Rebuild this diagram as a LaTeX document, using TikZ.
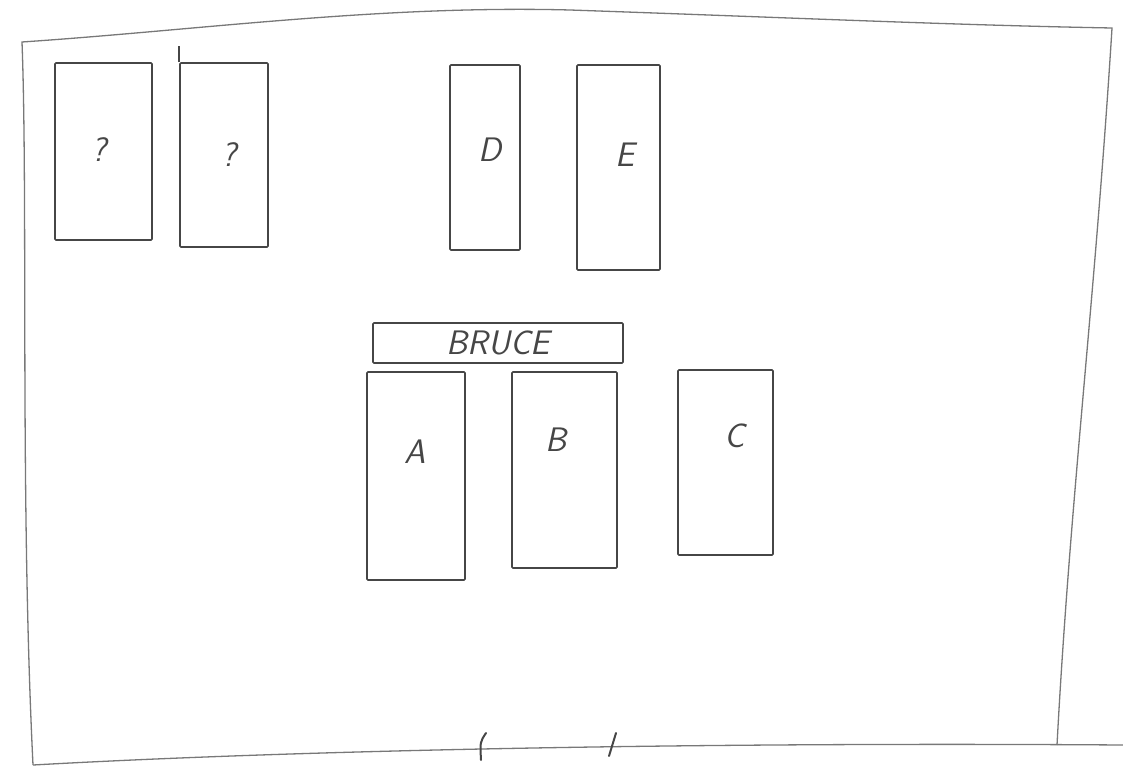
\documentclass[tikz,border=0pt]{standalone}
\usepackage{tikz}
\usetikzlibrary{positioning,calc}
\definecolor{penGray}{RGB}{70,70,70}
\definecolor{wallGray}{RGB}{120,120,120}
\tikzset{
  desk box/.style={draw=penGray,line width=1.6pt,rounded corners=1pt,inner sep=0pt},
  desk label/.style={text=penGray,font=\fontsize{34}{40}\selectfont\sffamily\itshape},
  wall line/.style={draw=wallGray,line width=1.3pt},
  door tick/.style={draw=penGray,line width=2pt,line cap=round}
}
\begin{document}
\begin{tikzpicture}[x=1pt,y=-1pt]
  \useasboundingbox (0,0) rectangle (1123,767);
  % room outline
  \draw[wall line] (33,765) .. controls (20,500) and (28,200) .. (22,42)
    .. controls (200,30) and (380,5) .. (570,10)
    .. controls (800,18) and (950,25) .. (1112,28)
    .. controls (1095,300) and (1070,500) .. (1057,745);
  \draw[wall line] (33,765) .. controls (300,750) and (700,742) .. (1123,745);
  % door
  \coordinate (door left top) at (486,733);
  \coordinate (door left bottom) at (481,760);
  \coordinate (door right top) at (616,733);
  \coordinate (door right bottom) at (609,756);
  \draw[door tick] (door left top) .. controls (480,742) .. (door left bottom);
  \draw[door tick] (door right top) -- (door right bottom);
  % top row
  \node[desk box,minimum width=97pt,minimum height=177pt] (unknown1) at (103.5,151.5) {};
  \node[desk box,minimum width=88pt,minimum height=184pt] (unknown2) at (224,155) {};
  \draw[penGray,line width=1.6pt] (unknown2.north west) -- ++(0,-16);
  \node[desk box,minimum width=70pt,minimum height=185pt] (deskD) at (485,157.5) {};
  \node[desk box,minimum width=83pt,minimum height=205pt] (deskE) at (618.5,167.5) {};
  \node[desk label] at (99,150) (labelQ1) {?};
  \node[desk label] at (229,155) (labelQ2) {?};
  \node[desk label] at (490,150) (labelD) {D};
  \node[desk label] at (625,155) (labelE) {E};
  % bruce
  \node[desk box,minimum width=250pt,minimum height=40pt,desk label] (bruce) at (498,343) {BRUCE};
  \node[desk box,minimum width=98pt,minimum height=208pt] (deskA) at (416,476) {};
  \node[desk box,minimum width=105pt,minimum height=196pt] (deskB) at (564.5,470) {};
  \node[desk box,minimum width=95pt,minimum height=185pt] (deskC) at (725.5,462.5) {};
  \node[desk label] at (415,452) (labelA) {A};
  \node[desk label] at (556,440) (labelB) {B};
  \node[desk label] at (735,436) (labelC) {C};
\end{tikzpicture}
\end{document}
